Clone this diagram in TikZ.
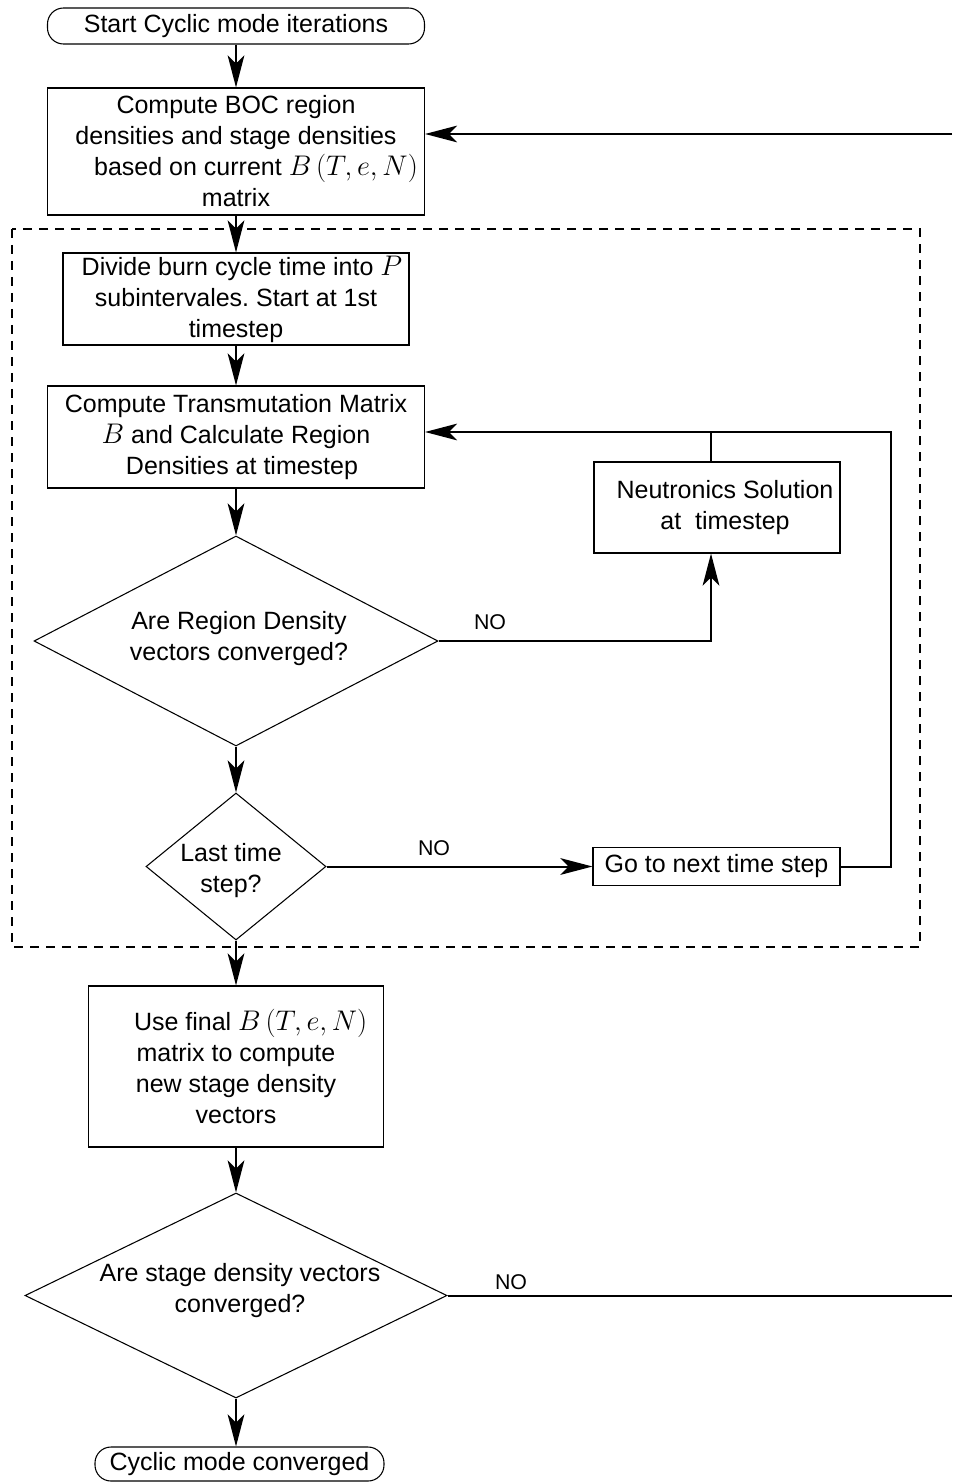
\RequirePackage{fix-cm}
\documentclass[tikz,border=0pt]{standalone}
\usepackage[no-math]{fontspec}
\setmainfont{Liberation Sans}
\usetikzlibrary{shapes.geometric,arrows.meta}
\frenchspacing
% formulas are set a little larger than the surrounding text
\newcommand{\mth}[1]{{\fontsize{21.3}{23.25}\selectfont$#1$}}

\begin{document}
\begin{tikzpicture}[x=0.75pt,y=-0.75pt,
  every node/.style={font=\fontsize{18.75}{23.25}\selectfont, inner sep=0pt},
  boxnode/.style={draw, line width=0.8pt, align=center},
  termnode/.style={draw, line width=0.8pt, rounded corners=12pt, align=center},
  dianode/.style={draw, diamond, line width=0.8pt},
  flow/.style={line width=1.5pt, -{Stealth[length=24pt,width=12.5pt,inset=6pt]}},
  link/.style={line width=1.5pt},
  nolabel/.style={font=\fontsize{16}{19}\selectfont},
  loopframe/.style={line width=1.2pt, dash pattern=on 7pt off 5pt}
]
\useasboundingbox (0,0) rectangle (952,1483);

% inner loop frame
\draw[loopframe] (12,229) rectangle (920,947);

% main column
\node[termnode, minimum width=282.75pt, minimum height=27pt] (start) at (236,26)
  {Start Cyclic mode iterations};
\node[boxnode, minimum width=282.75pt, minimum height=95.25pt] (boc) at (236,151.5)
  {Compute BOC region\\densities and stage densities\\\hspace*{30pt}based on current \mth{B\left(T,e,N\right)}\\matrix};
\node[boxnode, minimum width=259.5pt, minimum height=69pt] (divide) at (236,299)
  {\hspace*{9pt}Divide burn cycle time into \mth{P}\\subintervales. Start at 1st\\timestep};
\node[boxnode, minimum width=282.75pt, minimum height=76.5pt] (compute) at (236,437)
  {Compute Transmutation Matrix\\\mth{B} and Calculate Region\hspace*{15pt}\\\hspace*{9pt}Densities at timestep};
\node[dianode, minimum width=303pt, minimum height=157.5pt] (d1) at (236,641) {};
\node (d1txt) at (239,639) [align=center] {Are Region Density\\vectors converged?};
\node[dianode, minimum width=135pt, minimum height=110.25pt] (d2) at (236,866.5) {};
\node (d2txt) at (231,871) [align=center] {Last time\\step?};
\node[boxnode, minimum width=221.25pt, minimum height=120.75pt] (final) at (236,1066.5)
  {\hspace*{22pt}Use final \mth{B\left(T,e,N\right)}\\matrix to compute\\new stage density\\vectors};
\node[dianode, minimum width=316.5pt, minimum height=153.75pt] (d3) at (236,1295.5) {};
\node (d3txt) at (240,1291) [align=center] {Are stage density vectors\\converged?};
\node[termnode, minimum width=216.75pt, minimum height=25.5pt] (stop) at (239.5,1464)
  {Cyclic mode converged};

% side column
\node[boxnode, minimum width=184.5pt, minimum height=68.25pt] (neut) at (717,507.5)
  {\hspace*{12pt}Neutronics Solution\\\hspace*{12pt}at\ \ timestep};
\node[boxnode, minimum width=185.25pt, minimum height=28.5pt] (go) at (716.5,866.5)
  {Go to next time step};

% labels
\node[nolabel] (no1) at (490,622) {NO};
\node[nolabel] (no2) at (434,848) {NO};
\node[nolabel] (no3) at (511,1282) {NO};

% helper points
\coordinate (loop) at (891,432);
\coordinate (rin) at (952,134);
\coordinate (rout) at (952,1295.5);

% connectors along the main column
\draw[flow] (start.south) -- (boc.north);
\draw[flow] (boc.south) -- (divide.north);
\draw[flow] (divide.south) -- (compute.north);
\draw[flow] (compute.south) -- (d1.north);
\draw[flow] (d1.south) -- (d2.north);
\draw[flow] (d2.south) -- (final.north);
\draw[flow] (final.south) -- (d3.north);
\draw[flow] (d3.south) -- (d3.south |- stop.north);

% branches
\draw[flow] (d1.east) -| ([xshift=-4.5pt]neut.south);
\draw[link] ([xshift=-4.5pt]neut.north) -- ([xshift=-4.5pt]neut.north |- loop);
\draw[flow] (d2.east) -- (go.west);
\draw[flow] (go.east) -| (loop) -- (loop -| compute.east);
\draw[flow] (rin) -- (rin -| boc.east);
\draw[link] (d3.east) -- (rout);
\end{tikzpicture}
\end{document}
